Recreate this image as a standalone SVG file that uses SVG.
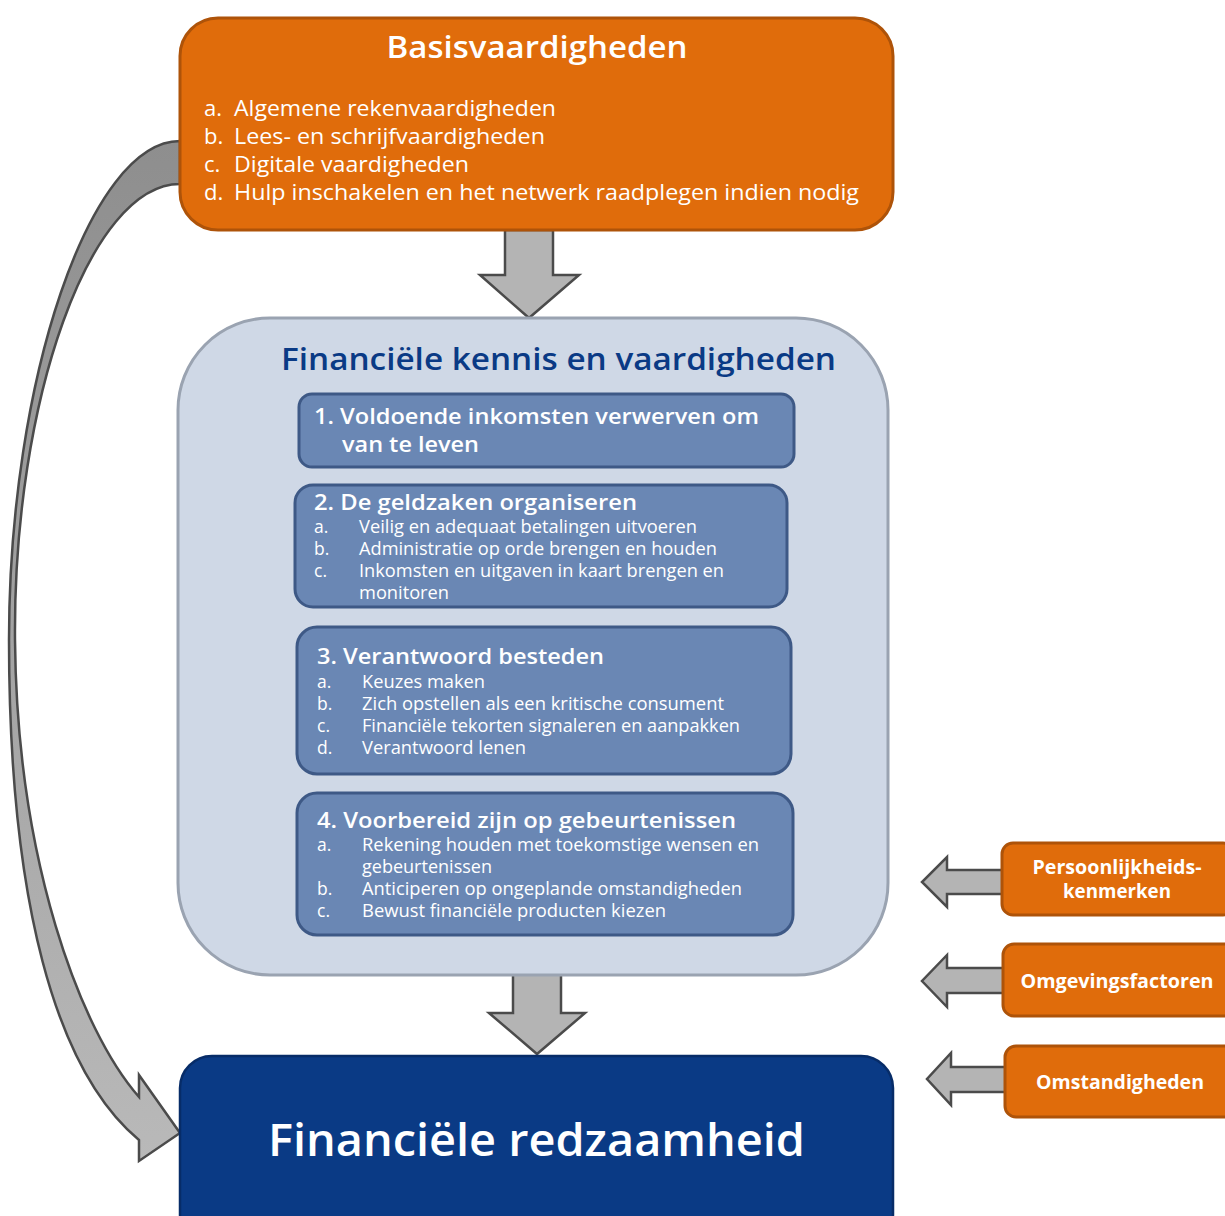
<svg xmlns="http://www.w3.org/2000/svg" width="1225" height="1216" viewBox="0 0 1225 1216">
<defs>
<linearGradient id="curveGrad" x1="0" y1="0" x2="0" y2="1">
<stop offset="0" stop-color="#8e8e8e"/>
<stop offset="1" stop-color="#b9b9b9"/>
</linearGradient>
<style>
.orange{fill:#E06C0B;stroke:#AE5309;stroke-width:3}
.outer{fill:#CFD8E6;stroke:#9AA3B1;stroke-width:3}
.sub{fill:#6A87B4;stroke:#3E5986;stroke-width:3}
.navy{fill:#0A3A85;stroke:#072C68;stroke-width:2.5}
.arrow{fill:#B4B4B4;stroke:#4B4B4B;stroke-width:2.5;stroke-linejoin:miter}
text{font-family:"Open Sans","Noto Sans","DejaVu Sans",sans-serif;fill:#ffffff}
.t30{font-size:30px;font-weight:600}
.t22{font-size:22px}
.h22{font-size:22px;font-weight:600}
.t17{font-size:17.5px}
.side{font-size:19px;font-weight:700;text-anchor:middle}
.title{font-size:31px;fill:#0A3A85;font-weight:600}
.big{font-size:46px;font-weight:600}
</style>
</defs>

<g id="connectors">
<path id="curve-arrow" d="M180,141 C90,141 9,380 9,640 C9,900 55,1070 139,1140 L139,1161 L180,1133 L139,1075 L139,1097 C80,1030 17,860 15,640 C13,400 90,184 180,184 Z" fill="url(#curveGrad)" stroke="#4B4B4B" stroke-width="2.5" stroke-linejoin="miter"/>
<path id="arrow-down-1" class="arrow" d="M505,230 L553,230 L553,275 L579,275 L529,318 L480,275 L505,275 Z"/>
<path id="arrow-down-2" class="arrow" d="M513,973 L561,973 L561,1013 L585,1013 L537,1054 L489,1013 L513,1013 Z"/>
<path id="arrow-left-1" class="arrow" d="M1003,870 L947,870 L947,857 L922,882 L947,907 L947,894 L1003,894 Z"/>
<path id="arrow-left-2" class="arrow" d="M1004,968 L947,968 L947,955 L922,981 L947,1007 L947,993 L1004,993 Z"/>
<path id="arrow-left-3" class="arrow" d="M1007,1067 L951,1067 L951,1053 L927,1079 L951,1105 L951,1092 L1007,1092 Z"/>
</g>

<g id="basisvaardigheden">
<rect class="orange" x="180" y="18" width="713" height="212" rx="38" ry="38"/>
<text class="t30" x="537" y="58" text-anchor="middle" textLength="301" lengthAdjust="spacingAndGlyphs">Basisvaardigheden</text>
<text class="t22" x="204" y="116">a.</text>
<text class="t22" x="234" y="116" textLength="322" lengthAdjust="spacingAndGlyphs">Algemene rekenvaardigheden</text>
<text class="t22" x="204" y="144">b.</text>
<text class="t22" x="234" y="144" textLength="311" lengthAdjust="spacingAndGlyphs">Lees- en schrijfvaardigheden</text>
<text class="t22" x="204" y="172">c.</text>
<text class="t22" x="234" y="172" textLength="235" lengthAdjust="spacingAndGlyphs">Digitale vaardigheden</text>
<text class="t22" x="204" y="200">d.</text>
<text class="t22" x="234" y="200" textLength="625" lengthAdjust="spacingAndGlyphs">Hulp inschakelen en het netwerk raadplegen indien nodig</text>
</g>

<g id="financiele-kennis">
<rect class="outer" x="178" y="318" width="710" height="657" rx="92" ry="92"/>
<text class="title" x="281" y="370" textLength="555" lengthAdjust="spacingAndGlyphs">Financiële kennis en vaardigheden</text>
</g>

<g id="item-1">
<rect class="sub" x="299" y="394" width="495" height="73" rx="13" ry="13"/>
<text class="h22" x="314" y="424" textLength="445" lengthAdjust="spacingAndGlyphs">1. Voldoende inkomsten verwerven om</text>
<text class="h22" x="342" y="452" textLength="137" lengthAdjust="spacingAndGlyphs">van te leven</text>
</g>

<g id="item-2">
<rect class="sub" x="295" y="485" width="492" height="122" rx="18" ry="18"/>
<text class="h22" x="314" y="510" textLength="323" lengthAdjust="spacingAndGlyphs">2. De geldzaken organiseren</text>
<text class="t17" x="314" y="533">a.</text>
<text class="t17" x="359" y="533" textLength="338" lengthAdjust="spacingAndGlyphs">Veilig en adequaat betalingen uitvoeren</text>
<text class="t17" x="314" y="555">b.</text>
<text class="t17" x="359" y="555" textLength="358" lengthAdjust="spacingAndGlyphs">Administratie op orde brengen en houden</text>
<text class="t17" x="314" y="577">c.</text>
<text class="t17" x="359" y="577" textLength="365" lengthAdjust="spacingAndGlyphs">Inkomsten en uitgaven in kaart brengen en</text>
<text class="t17" x="359" y="599" textLength="90" lengthAdjust="spacingAndGlyphs">monitoren</text>
</g>

<g id="item-3">
<rect class="sub" x="297" y="627" width="494" height="147" rx="20" ry="20"/>
<text class="h22" x="317" y="664" textLength="287" lengthAdjust="spacingAndGlyphs">3. Verantwoord besteden</text>
<text class="t17" x="317" y="688">a.</text>
<text class="t17" x="362" y="688" textLength="123" lengthAdjust="spacingAndGlyphs">Keuzes maken</text>
<text class="t17" x="317" y="710">b.</text>
<text class="t17" x="362" y="710" textLength="362" lengthAdjust="spacingAndGlyphs">Zich opstellen als een kritische consument</text>
<text class="t17" x="317" y="732">c.</text>
<text class="t17" x="362" y="732" textLength="378" lengthAdjust="spacingAndGlyphs">Financiële tekorten signaleren en aanpakken</text>
<text class="t17" x="317" y="754">d.</text>
<text class="t17" x="362" y="754" textLength="164" lengthAdjust="spacingAndGlyphs">Verantwoord lenen</text>
</g>

<g id="item-4">
<rect class="sub" x="297" y="793" width="496" height="142" rx="20" ry="20"/>
<text class="h22" x="317" y="828" textLength="419" lengthAdjust="spacingAndGlyphs">4. Voorbereid zijn op gebeurtenissen</text>
<text class="t17" x="317" y="851">a.</text>
<text class="t17" x="362" y="851" textLength="397" lengthAdjust="spacingAndGlyphs">Rekening houden met toekomstige wensen en</text>
<text class="t17" x="362" y="873" textLength="130" lengthAdjust="spacingAndGlyphs">gebeurtenissen</text>
<text class="t17" x="317" y="895">b.</text>
<text class="t17" x="362" y="895" textLength="380" lengthAdjust="spacingAndGlyphs">Anticiperen op ongeplande omstandigheden</text>
<text class="t17" x="317" y="917">c.</text>
<text class="t17" x="362" y="917" textLength="304" lengthAdjust="spacingAndGlyphs">Bewust financiële producten kiezen</text>
</g>

<g id="financiele-redzaamheid">
<rect class="navy" x="180" y="1056" width="713" height="190" rx="32" ry="32"/>
<text class="big" x="268" y="1156" textLength="537" lengthAdjust="spacingAndGlyphs">Financiële redzaamheid</text>
</g>

<g id="persoonlijkheidskenmerken">
<rect class="orange" x="1002" y="843" width="232" height="72" rx="11" ry="11"/>
<text class="side" x="1117" y="874" textLength="169" lengthAdjust="spacingAndGlyphs">Persoonlijkheids-</text>
<text class="side" x="1117" y="898" textLength="108" lengthAdjust="spacingAndGlyphs">kenmerken</text>
</g>

<g id="omgevingsfactoren">
<rect class="orange" x="1003" y="944" width="232" height="72" rx="11" ry="11"/>
<text class="side" x="1117" y="988" textLength="193" lengthAdjust="spacingAndGlyphs">Omgevingsfactoren</text>
</g>

<g id="omstandigheden">
<rect class="orange" x="1005" y="1046" width="232" height="71" rx="11" ry="11"/>
<text class="side" x="1120" y="1089" textLength="168" lengthAdjust="spacingAndGlyphs">Omstandigheden</text>
</g>
</svg>
